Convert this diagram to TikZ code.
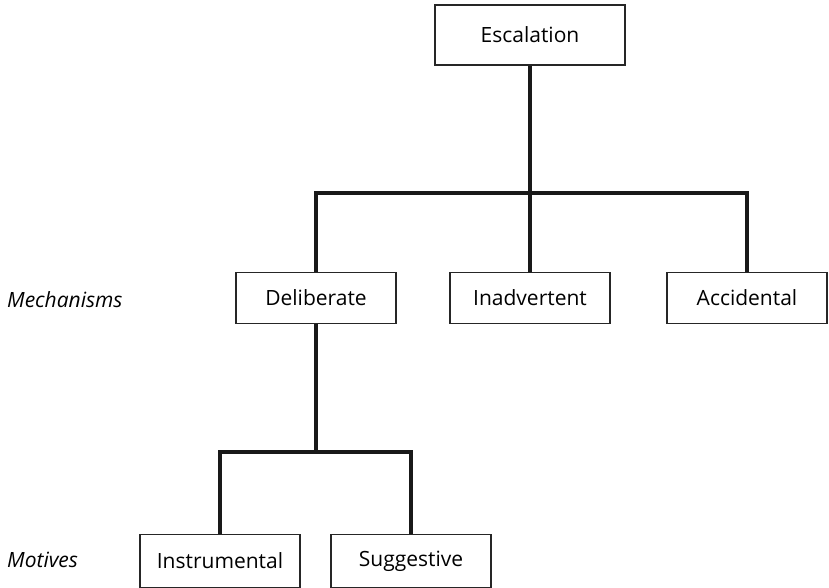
\documentclass[tikz,border=0pt]{standalone}
\usepackage{fontspec}
\setmainfont{Open Sans}
\begin{document}
\begin{tikzpicture}[x=1pt,y=1pt,
 	box/.style={draw=black!85,line width=1.2pt,fill=white,minimum width=160pt,minimum height=51pt,inner sep=0pt,font=\fontsize{21}{24}\selectfont},
 	link/.style={line width=4pt,black!90,line join=miter},
 	level/.style={anchor=west,inner sep=0pt,font=\fontsize{21}{24}\selectfont\itshape}]
 	\useasboundingbox (0,0) rectangle (829,-588);
 	\node [box,minimum width=190pt,minimum height=60pt] (esc) at (530,-35) {Escalation};
 	\node [box] (del) at (316,-298) {Deliberate};
 	\node [box] (inad) at (530,-298) {Inadvertent};
 	\node [box] (acc) at (747,-298) {Accidental};
 	\node [box,minimum height=53pt] (inst) at (220,-561) {Instrumental};
 	\node [box,minimum height=53pt] (sugg) at (411,-561) {Suggestive};
 	\node [level] (mech) at (7,-300) {Mechanisms};
 	\node [level] (mot) at (7,-560) {Motives};
 	\coordinate (bar1) at (530,-193);
 	\coordinate (bar2) at (316,-452);
 	\draw [link] (esc.south) -- (inad.north);
 	\draw [link] (del.north) |- (bar1) -| (acc.north);
 	\draw [link] (del.south) -- (bar2);
 	\draw [link] (inst.north) |- (bar2) -| (sugg.north);
\end{tikzpicture}
\end{document}
